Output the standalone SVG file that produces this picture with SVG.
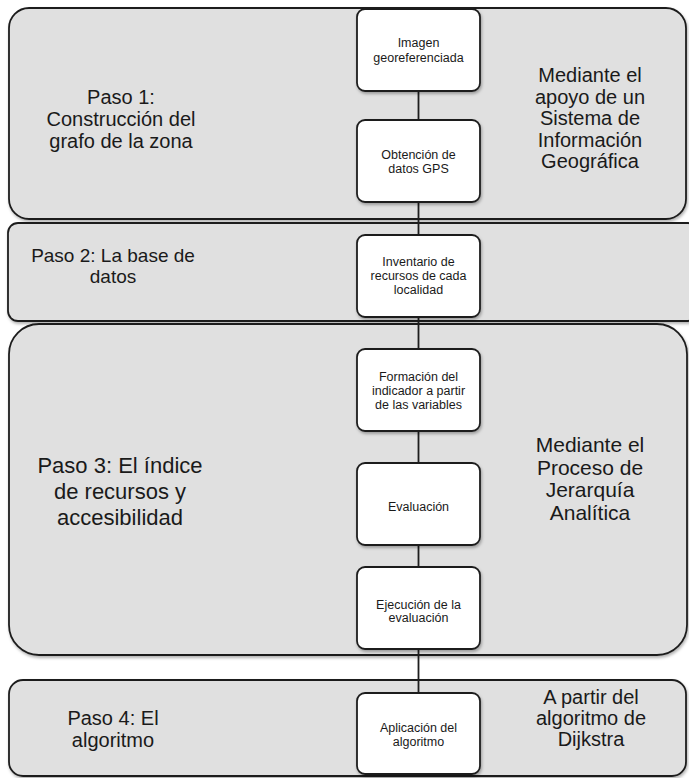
<svg xmlns="http://www.w3.org/2000/svg" width="689" height="778" viewBox="0 0 689 778">
<defs>
<filter id="sh" x="-5%" y="-5%" width="110%" height="115%">
<feDropShadow dx="1" dy="2" stdDeviation="1.5" flood-color="#000" flood-opacity="0.3"/>
</filter>
</defs>
<style>
.panel{fill:#e0e0e0;stroke:#1e1e1e;stroke-width:1.8;filter:url(#sh)}
.box{fill:#fff;stroke:#1e1e1e;stroke-width:1.8;filter:url(#sh)}
.big{font-family:"Liberation Sans",Arial,sans-serif;font-size:20px;fill:#1a1a1a;text-anchor:middle}
.big3{font-family:"Liberation Sans",Arial,sans-serif;font-size:22px;fill:#1a1a1a;text-anchor:middle}
.big3r{font-family:"Liberation Sans",Arial,sans-serif;font-size:21px;fill:#1a1a1a;text-anchor:middle}
.mid{font-family:"Liberation Sans",Arial,sans-serif;font-size:19px;fill:#1a1a1a;text-anchor:middle}
.small{font-family:"Liberation Sans",Arial,sans-serif;font-size:12.5px;fill:#1a1a1a;text-anchor:middle}
.conn{stroke:#1e1e1e;stroke-width:1.8;fill:none}
</style>
<rect width="689" height="778" fill="#fff"/>
<g id="paso1">
<rect class="panel" x="9" y="8" width="677" height="211" rx="20"/>
<text class="big" x="121" y="104">Paso 1:</text>
<text class="big" x="121" y="126">Construcción del</text>
<text class="big" x="121" y="148">grafo de la zona</text>
<text class="big" x="590" y="82">Mediante el</text>
<text class="big" x="590" y="104">apoyo de un</text>
<text class="big" x="590" y="125">Sistema de</text>
<text class="big" x="590" y="147">Información</text>
<text class="big" x="590" y="168">Geográfica</text>
</g>
<g id="paso2">
<rect class="panel" x="8" y="223" width="690" height="98" rx="10"/>
<text class="mid" x="113" y="262">Paso 2: La base de</text>
<text class="mid" x="113" y="283">datos</text>
</g>
<g id="paso3">
<rect class="panel" x="9" y="324" width="678" height="331" rx="30"/>
<text class="big3" x="120" y="473">Paso 3: El índice</text>
<text class="big3" x="120" y="499">de recursos y</text>
<text class="big3" x="120" y="525">accesibilidad</text>
<text class="big3r" x="590" y="452">Mediante el</text>
<text class="big3r" x="590" y="475">Proceso de</text>
<text class="big3r" x="590" y="497">Jerarquía</text>
<text class="big3r" x="590" y="520">Analítica</text>
</g>
<g id="paso4">
<rect class="panel" x="9" y="680" width="677" height="96" rx="14"/>
<text class="big" x="113" y="725">Paso 4: El</text>
<text class="big" x="113" y="747">algoritmo</text>
<text class="big" x="591" y="704">A partir del</text>
<text class="big" x="591" y="725">algoritmo de</text>
<text class="big" x="591" y="746">Dijkstra</text>
</g>
<g id="connectors">
<line class="conn" x1="418.5" y1="91" x2="418.5" y2="693"/>
</g>
<g id="imagen">
<rect class="box" x="357" y="9" width="123" height="82" rx="8"/>
<text class="small" x="418.5" y="47">Imagen</text>
<text class="small" x="418.5" y="62">georeferenciada</text>
</g>
<g id="obtencion">
<rect class="box" x="357" y="120" width="123" height="82" rx="8"/>
<text class="small" x="418.5" y="159">Obtención de</text>
<text class="small" x="418.5" y="173">datos GPS</text>
</g>
<g id="inventario">
<rect class="box" x="357" y="235" width="123" height="82" rx="8"/>
<text class="small" x="418.5" y="266">Inventario de</text>
<text class="small" x="418.5" y="280">recursos de cada</text>
<text class="small" x="418.5" y="294">localidad</text>
</g>
<g id="formacion">
<rect class="box" x="357" y="349" width="123" height="82" rx="8"/>
<text class="small" x="418.5" y="381">Formación del</text>
<text class="small" x="418.5" y="395">indicador a partir</text>
<text class="small" x="418.5" y="409">de las variables</text>
</g>
<g id="evaluacion">
<rect class="box" x="357" y="463" width="123" height="82" rx="8"/>
<text class="small" x="418.5" y="511">Evaluación</text>
</g>
<g id="ejecucion">
<rect class="box" x="357" y="567" width="123" height="82" rx="8"/>
<text class="small" x="418.5" y="609">Ejecución de la</text>
<text class="small" x="418.5" y="622">evaluación</text>
</g>
<g id="aplicacion">
<rect class="box" x="357" y="693" width="123" height="81" rx="8"/>
<text class="small" x="418.5" y="732">Aplicación del</text>
<text class="small" x="418.5" y="746">algoritmo</text>
</g>
</svg>
